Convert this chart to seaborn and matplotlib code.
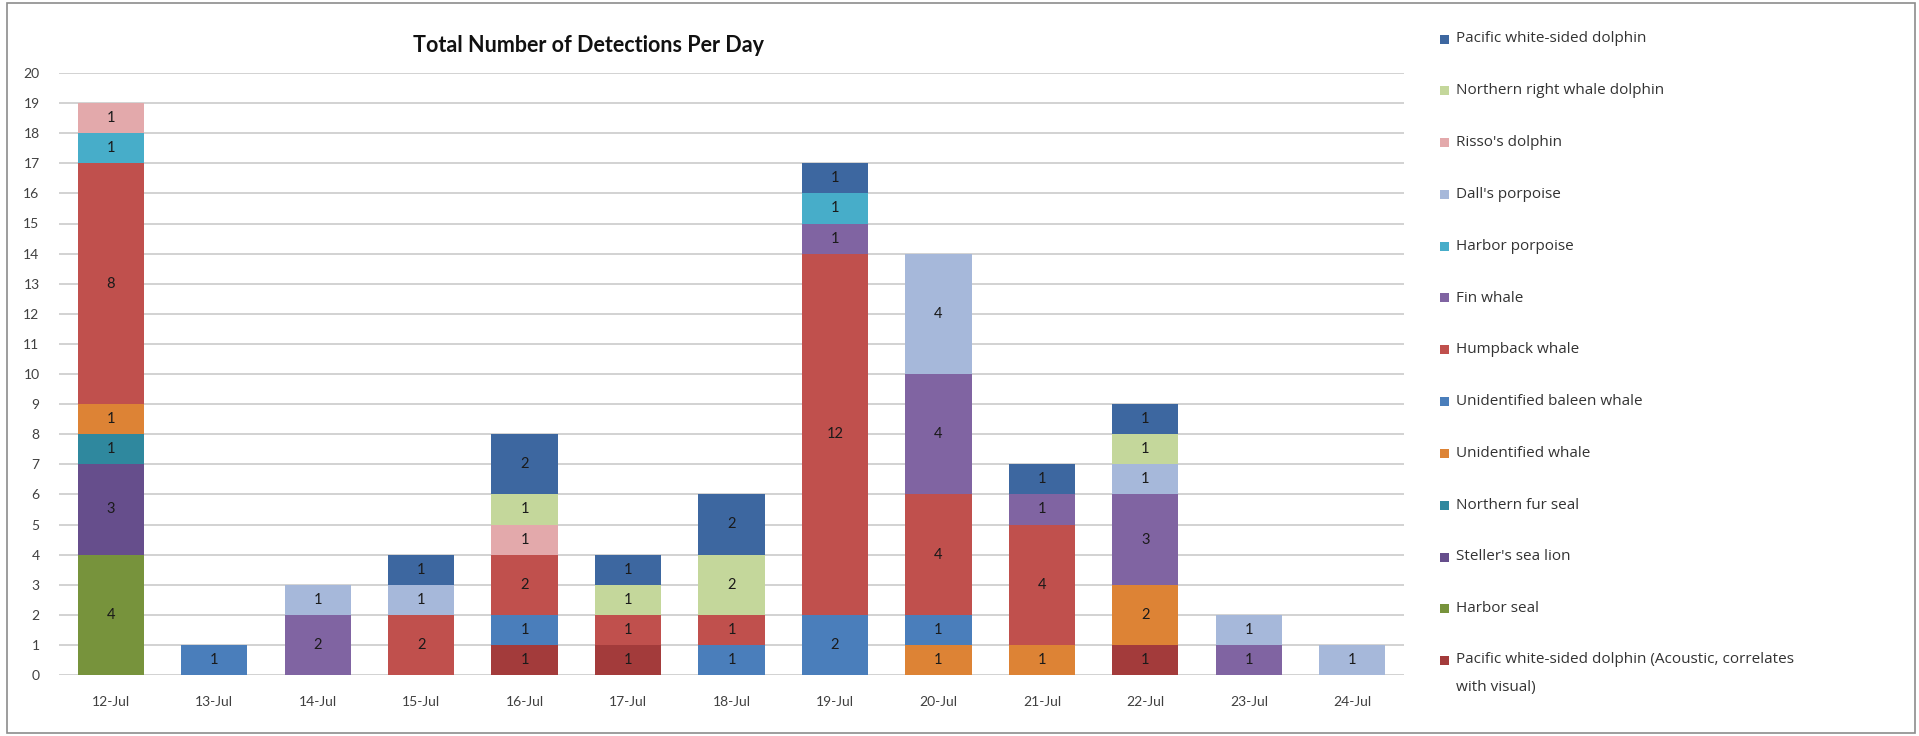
import numpy as np
import pandas as pd
import seaborn as sns
import matplotlib.pyplot as plt
from matplotlib.patches import Rectangle

# Survey days
days = ["12-Jul", "13-Jul", "14-Jul", "15-Jul", "16-Jul", "17-Jul", "18-Jul",
        "19-Jul", "20-Jul", "21-Jul", "22-Jul", "23-Jul", "24-Jul"]

# Species, listed top of the stack first
species = [
    "Pacific white-sided dolphin",
    "Northern right whale dolphin",
    "Risso's dolphin",
    "Dall's porpoise",
    "Harbor porpoise",
    "Fin whale",
    "Humpback whale",
    "Unidentified baleen whale",
    "Unidentified whale",
    "Northern fur seal",
    "Steller's sea lion",
    "Harbor seal",
    "Pacific white-sided dolphin (Acoustic, correlates with visual)",
]

# Detections per day for each species
pacific_white_sided = [0, 0, 0, 1, 2, 1, 2, 1, 0, 1, 1, 0, 0]
northern_right_whale_dolphin = [0, 0, 0, 0, 1, 1, 2, 0, 0, 0, 1, 0, 0]
rissos_dolphin = [1, 0, 0, 0, 1, 0, 0, 0, 0, 0, 0, 0, 0]
dalls_porpoise = [0, 0, 1, 1, 0, 0, 0, 0, 4, 0, 1, 1, 1]
harbor_porpoise = [1, 0, 0, 0, 0, 0, 0, 1, 0, 0, 0, 0, 0]
fin_whale = [0, 0, 2, 0, 0, 0, 0, 1, 4, 1, 3, 1, 0]
humpback_whale = [8, 0, 0, 2, 2, 1, 1, 12, 4, 4, 0, 0, 0]
unidentified_baleen = [0, 1, 0, 0, 1, 0, 1, 2, 1, 0, 0, 0, 0]
unidentified_whale = [1, 0, 0, 0, 0, 0, 0, 0, 1, 1, 2, 0, 0]
northern_fur_seal = [1, 0, 0, 0, 0, 0, 0, 0, 0, 0, 0, 0, 0]
stellers_sea_lion = [3, 0, 0, 0, 0, 0, 0, 0, 0, 0, 0, 0, 0]
harbor_seal = [4, 0, 0, 0, 0, 0, 0, 0, 0, 0, 0, 0, 0]
pwsd_acoustic = [0, 0, 0, 0, 1, 1, 0, 0, 0, 0, 1, 0, 0]

counts = [pacific_white_sided, northern_right_whale_dolphin, rissos_dolphin,
          dalls_porpoise, harbor_porpoise, fin_whale, humpback_whale,
          unidentified_baleen, unidentified_whale, northern_fur_seal,
          stellers_sea_lion, harbor_seal, pwsd_acoustic]

colors = ["#3D67A0", "#C4D79B", "#E3A9AB", "#A6B8DA", "#47ADC9", "#8064A2",
          "#C0504D", "#4A7EBB", "#DD8335", "#2F889E", "#664E8C", "#77933C",
          "#A33B3B"]

title = "Total Number of Detections Per Day"
legend_labels = species[:-1] + [
    "Pacific white-sided dolphin (Acoustic, correlates\nwith visual)"]

# Long-form table: one row per (day, species) with a nonzero count
rows = []
for name, vals in zip(species, counts):
    for d, v in enumerate(vals):
        if v > 0:
            rows.append({"day": d, "species": name, "count": v})
df = pd.DataFrame(rows)

sns.set_theme(style="white")
plt.rcParams["font.family"] = ["Lato", "DejaVu Sans"]

W, H = 1919, 736
fig = plt.figure(figsize=(W / 100, H / 100), dpi=100)
fig.patch.set_facecolor("white")

ax_left, ax_right, ax_top, ax_bottom = 59, 1404, 73, 675
ax = fig.add_axes([ax_left / W, 1 - ax_bottom / H,
                   (ax_right - ax_left) / W, (ax_bottom - ax_top) / H])

sns.histplot(data=df, x="day", weights="count", hue="species",
             hue_order=species, palette=colors, multiple="stack",
             discrete=True, shrink=0.64, alpha=1, linewidth=0,
             legend=False, ax=ax)

ax.set_xlim(-0.5, len(days) - 0.5)
ax.set_ylim(0, 20)
ax.set_yticks(range(0, 21))
ax.set_xticks(range(len(days)))
ax.set_xticklabels(days)
ax.set_xlabel("")
ax.set_ylabel("")
ax.tick_params(axis="both", length=0, labelsize=10, colors="#404040")
ax.tick_params(axis="x", pad=15)
ax.tick_params(axis="y", pad=14)
ax.yaxis.grid(True, color="#CFCFCF", linewidth=1.3)
ax.set_axisbelow(True)
for s in ax.spines.values():
    s.set_visible(False)

# Segment value labels, stacked from the bottom species upward
arr = np.array(counts, dtype=float)
base = np.zeros(len(days))
for vals in arr[::-1]:
    for d, v in enumerate(vals):
        if v > 0:
            ax.text(d, base[d] + v / 2, f"{int(v)}", ha="center", va="center",
                    fontsize=10.5, color="#1A1A1A")
    base += vals

fig.text(588 / W, 1 - 46 / H, title, ha="center", va="center",
         fontsize=15.5, fontweight="bold", color="#111111")

# Legend column on the right
y0, step = 39, 51.8
legend_font = ["Open Sans", "DejaVu Sans"]
for i, (lab, col) in enumerate(zip(legend_labels, colors)):
    yc = y0 + i * step
    fig.patches.append(Rectangle((1440 / W, 1 - (yc + 4.5) / H), 9 / W, 9 / H,
                                 transform=fig.transFigure, facecolor=col,
                                 edgecolor="none"))
    if "\n" in lab:
        fig.text(1456 / W, 1 - (yc - 9) / H, lab, ha="left", va="top",
                 fontsize=11, color="#333333", family=legend_font,
                 linespacing=2.25)
    else:
        fig.text(1456 / W, 1 - yc / H, lab, ha="left", va="center",
                 fontsize=11, color="#333333", family=legend_font)

# Chart frame
fig.patches.append(Rectangle((7 / W, 3 / H), (1915 - 7) / W, (733 - 3) / H,
                             transform=fig.transFigure, facecolor="none",
                             edgecolor="#8C8C8C", linewidth=1.2))

fig.savefig("out.png", dpi=100)
